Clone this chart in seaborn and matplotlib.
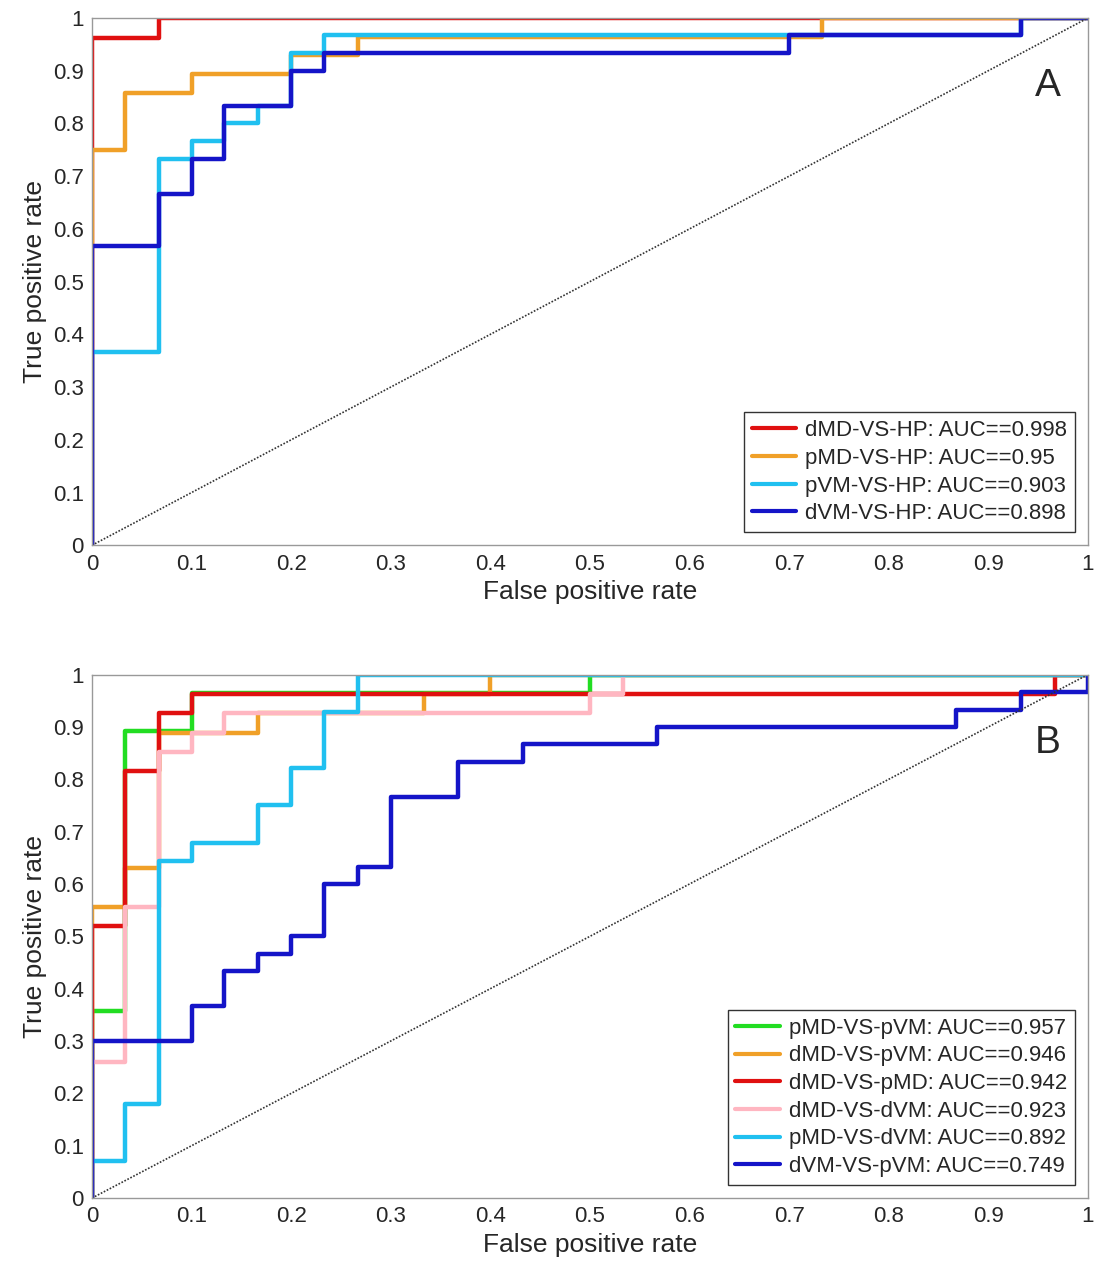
import matplotlib
matplotlib.use("Agg")
import matplotlib.pyplot as plt
import seaborn as sns
import pandas as pd

sns.set_theme(style="white")
plt.rcParams['font.family'] = ['Liberation Sans', 'DejaVu Sans']

# Panel A
a_labels = ["dMD-VS-HP: AUC==0.998", "pMD-VS-HP: AUC==0.95", "pVM-VS-HP: AUC==0.903", "dVM-VS-HP: AUC==0.898"]
a_colors = ["#e01010", "#f0a028", "#20c0f0", "#1414c8"]
a_fpr = [
    [0, 0, 0.067, 0.067, 1],
    [0, 0, 0.033, 0.033, 0.1, 0.1, 0.2, 0.2, 0.267, 0.267, 0.733, 0.733, 1],
    [0, 0, 0.067, 0.067, 0.1, 0.1, 0.133, 0.133, 0.167, 0.167, 0.2, 0.2, 0.233, 0.233, 0.933, 0.933, 1],
    [0, 0, 0.067, 0.067, 0.1, 0.1, 0.133, 0.133, 0.2, 0.2, 0.233, 0.233, 0.7, 0.7, 0.933, 0.933, 1],
]
a_tpr = [
    [0, 0.962, 0.962, 1, 1],
    [0, 0.75, 0.75, 0.857, 0.857, 0.893, 0.893, 0.929, 0.929, 0.964, 0.964, 1, 1],
    [0, 0.367, 0.367, 0.733, 0.733, 0.767, 0.767, 0.8, 0.8, 0.833, 0.833, 0.933, 0.933, 0.967, 0.967, 1, 1],
    [0, 0.567, 0.567, 0.667, 0.667, 0.733, 0.733, 0.833, 0.833, 0.9, 0.9, 0.933, 0.933, 0.967, 0.967, 1, 1],
]

# Panel B
b_labels = ["pMD-VS-pVM: AUC==0.957", "dMD-VS-pVM: AUC==0.946", "dMD-VS-pMD: AUC==0.942",
            "dMD-VS-dVM: AUC==0.923", "pMD-VS-dVM: AUC==0.892", "dVM-VS-pVM: AUC==0.749"]
b_colors = ["#22dd22", "#f0a028", "#e01010", "#ffb6c1", "#20c0f0", "#1414c8"]
b_fpr = [
    [0, 0, 0.033, 0.033, 0.1, 0.1, 0.5, 0.5, 1],
    [0, 0, 0.033, 0.033, 0.067, 0.067, 0.167, 0.167, 0.333, 0.333, 0.4, 0.4, 1],
    [0, 0, 0.033, 0.033, 0.067, 0.067, 0.1, 0.1, 0.967, 0.967, 1],
    [0, 0, 0.033, 0.033, 0.067, 0.067, 0.1, 0.1, 0.133, 0.133, 0.5, 0.5, 0.533, 0.533, 1],
    [0, 0, 0.033, 0.033, 0.067, 0.067, 0.1, 0.1, 0.167, 0.167, 0.2, 0.2, 0.233, 0.233, 0.267, 0.267, 1],
    [0, 0, 0.1, 0.1, 0.133, 0.133, 0.167, 0.167, 0.2, 0.2, 0.233, 0.233, 0.267, 0.267, 0.3, 0.3,
     0.367, 0.367, 0.433, 0.433, 0.567, 0.567, 0.867, 0.867, 0.933, 0.933, 1, 1],
]
b_tpr = [
    [0, 0.357, 0.357, 0.893, 0.893, 0.964, 0.964, 1, 1],
    [0, 0.556, 0.556, 0.63, 0.63, 0.889, 0.889, 0.926, 0.926, 0.963, 0.963, 1, 1],
    [0, 0.519, 0.519, 0.815, 0.815, 0.926, 0.926, 0.963, 0.963, 1, 1],
    [0, 0.259, 0.259, 0.556, 0.556, 0.852, 0.852, 0.889, 0.889, 0.926, 0.926, 0.963, 0.963, 1, 1],
    [0, 0.071, 0.071, 0.179, 0.179, 0.643, 0.643, 0.679, 0.679, 0.75, 0.75, 0.821, 0.821, 0.929, 0.929, 1, 1],
    [0, 0.3, 0.3, 0.367, 0.367, 0.433, 0.433, 0.467, 0.467, 0.5, 0.5, 0.6, 0.6, 0.633, 0.633,
     0.767, 0.767, 0.833, 0.833, 0.867, 0.867, 0.9, 0.9, 0.933, 0.933, 0.967, 0.967, 1],
]

fig = plt.figure(figsize=(11.12, 12.8), dpi=100)
axA = fig.add_axes([0.0827, 0.574, 0.8957, 0.412])
axB = fig.add_axes([0.0827, 0.064, 0.8957, 0.409])

ticks = [i / 10 for i in range(11)]
ticklabels = ["0"] + [f"{t:.1f}" for t in ticks[1:-1]] + ["1"]

def panel(ax, labels, colors, fprs, tprs, letter):
    for lab, c, f, t in zip(labels, colors, fprs, tprs):
        df = pd.DataFrame({"fpr": f, "tpr": t})
        sns.lineplot(data=df, x="fpr", y="tpr", ax=ax, sort=False, estimator=None,
                     color=c, lw=3.2, label=lab)
    ax.plot([0, 1], [0, 1], ls=(0, (1, 1)), color="#333333", lw=1.2)
    ax.set_xlim(0, 1); ax.set_ylim(0, 1)
    ax.set_xticks(ticks); ax.set_yticks(ticks)
    ax.set_xticklabels(ticklabels, fontsize=16); ax.set_yticklabels(ticklabels, fontsize=16)
    ax.tick_params(direction="in", length=5, color="#888888", pad=6)
    for s in ax.spines.values():
        s.set_color("#999999"); s.set_linewidth(1)
    ax.set_xlabel("False positive rate", fontsize=19)
    ax.set_ylabel("True positive rate", fontsize=19)
    leg = ax.legend(loc="lower right", fontsize=16, frameon=True, fancybox=False,
                    handlelength=2.0, handletextpad=0.4, borderpad=0.35, labelspacing=0.3,
                    borderaxespad=0.6)
    leg.get_frame().set_edgecolor("black")
    for h in leg.get_lines():
        h.set_linewidth(3)
    ax.text(0.96, 0.87, letter, transform=ax.transAxes, fontsize=28, ha="center", va="center")

panel(axA, a_labels, a_colors, a_fpr, a_tpr, "A")
panel(axB, b_labels, b_colors, b_fpr, b_tpr, "B")

fig.savefig("out.png", dpi=100)
